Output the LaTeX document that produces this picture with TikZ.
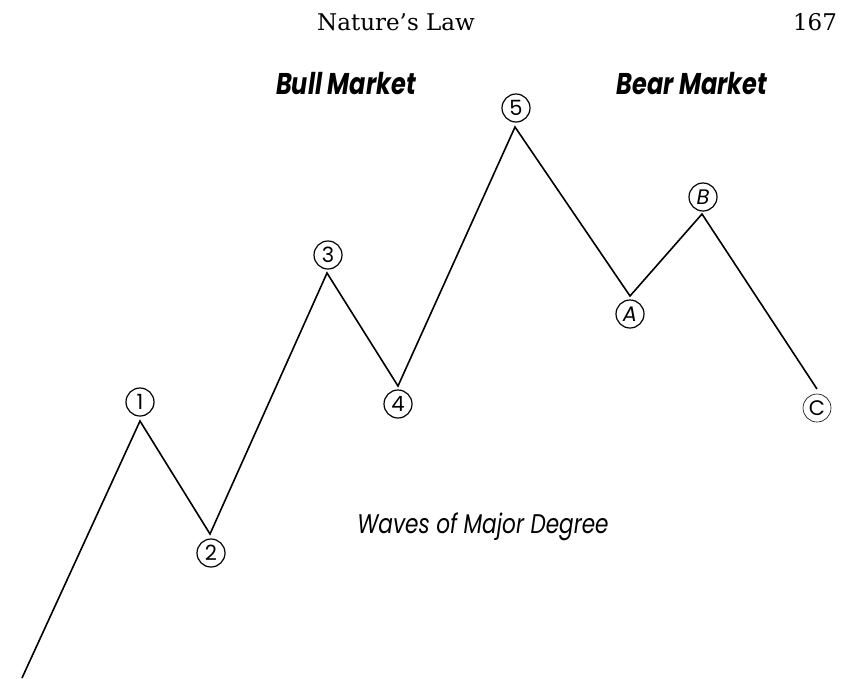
\documentclass[tikz,border=0pt]{standalone}
\usepackage{fontspec}
\setmainfont{DejaVu Serif}
\newfontfamily\wavefont{Poppins}
\newfontfamily\headfont[FakeStretch=0.8]{Poppins}
\usepackage{tikz}
\usetikzlibrary{positioning, calc}

\begin{document}
\begin{tikzpicture}[
    x=1pt, y=-1pt,
    wave/.style={line width=1.6pt, line join=miter},
    circ/.style={draw, circle, line width=1.2pt, inner sep=0pt,
                 minimum size=28pt, font=\wavefont\fontsize{21}{21}\selectfont},
    circit/.style={circ, font=\wavefont\itshape\fontsize{21}{21}\selectfont},
    heading/.style={font=\headfont\bfseries\itshape\fontsize{30}{30}\selectfont},
    caption/.style={font=\headfont\itshape\fontsize{27}{27}\selectfont}
  ]
    \useasboundingbox (0,0) rectangle (845,678);
    % page head
    \node[font=\fontsize{23}{23}\selectfont] (head) at (396,22) {Nature's Law};
    \node[font=\fontsize{23}{23}\selectfont] (page) at (815,22) {167};
    \node[heading] (bull) at (346,84) {Bull Market};
    \node[heading] (bear) at (692,84) {Bear Market};
    \node[caption] (deg)  at (483,527) {Waves of Major Degree};
    % turning points
    \coordinate (p0) at (22,678);
    \coordinate (p1) at (140,421);
    \coordinate (p2) at (210,534);
    \coordinate (p3) at (327,273);
    \coordinate (p4) at (398,386);
    \coordinate (p5) at (515,127);
    \coordinate (pa) at (630,296);
    \coordinate (pb) at (702,214);
    \coordinate (pc) at (817,389);
    \draw[wave] (p0)--(p1)--(p2)--(p3)--(p4)--(p5)--(pa)--(pb)--(pc);
    % wave labels
    \node[circ] (l1) at (140,402) {1};
    \node[circ] (l2) at (211,553) {2};
    \node[circ] (l3) at (328,255) {3};
    \node[circ] (l4) at (398,404) {4};
    \node[circ] (l5) at (516,108) {5};
    \node[circit] (la) at (630,314) {A};
    \node[circit] (lb) at (703,197) {B};
    \node[circ, double, draw=white, double=black, line width=0.6pt] (lc) at (817,408) {C};
  \end{tikzpicture}
\end{document}
